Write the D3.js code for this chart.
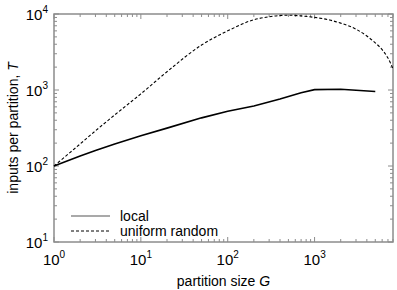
<!DOCTYPE html>
<html>
<head>
<meta charset="utf-8">
<script src="https://cdn.jsdelivr.net/npm/d3@7"></script>
<style>
  body { margin: 0; background: #fff; }
  text { font-family: "Liberation Sans", Arial, sans-serif; fill: #000; }
</style>
</head>
<body>
<svg id="chart" width="397" height="290"></svg>
<script>
// partition size G
const localG = [1, 2, 3, 5, 10, 20, 50, 100, 200, 400, 700, 1000, 2000, 5000];
const localT = [100, 135, 160, 195, 250, 315, 430, 525, 615, 760, 920, 1010, 1025, 955];

const randomG = [1, 2, 3, 5, 10, 20, 50, 100, 200, 300, 500, 700, 1000, 1500, 2000, 3000, 4000, 5000, 6000, 7000, 8000];
const randomT = [100, 195, 290, 470, 890, 1740, 3900, 6000, 8400, 9200, 9650, 9440, 9020, 8320, 7590, 6310, 5130, 4170, 3390, 2630, 1900];

const xTickVals = [1, 10, 100, 1000];
const xTickExp = ["0", "1", "2", "3"];
const yTickVals = [10, 100, 1000, 10000];
const yTickExp = ["1", "2", "3", "4"];

const legendLabels = ["local", "uniform random"];

const margin = {left: 54, top: 14, right: 4, bottom: 48}
const width = 397, height = 290

const svg = d3.select("#chart")

const x = d3.scaleLog().domain([1, 8000]).range([margin.left, width - margin.right])
const y = d3.scaleLog().domain([10, 10000]).range([height - margin.bottom, margin.top])

const x0 = x.range()[0], x1 = x.range()[1]
const y0 = y.range()[0], y1 = y.range()[1]

// minor ticks
const xMinor = x.ticks().filter(d => !xTickVals.includes(d))
const yMinor = y.ticks().filter(d => !yTickVals.includes(d))

const axisColor = "#8c8c8c"
const g = svg.append("g")

// frame
g.append("rect")
  .attr("x", x0).attr("y", y1)
  .attr("width", x1 - x0).attr("height", y0 - y1)
  .attr("fill", "none").attr("stroke", axisColor).attr("stroke-width", 1.5)

function tickLines(vals, len, horiz){
  vals.forEach(v => {
    if (horiz) {
      const px = x(v)
      g.append("line").attr("x1", px).attr("x2", px).attr("y1", y0).attr("y2", y0 - len)
        .attr("stroke", axisColor)
      g.append("line").attr("x1", px).attr("x2", px).attr("y1", y1).attr("y2", y1 + len)
        .attr("stroke", axisColor)
    } else {
      const py = y(v)
      g.append("line").attr("x1", x0).attr("x2", x0 + len).attr("y1", py).attr("y2", py)
        .attr("stroke", axisColor)
      g.append("line").attr("x1", x1).attr("x2", x1 - len).attr("y1", py).attr("y2", py)
        .attr("stroke", axisColor)
    }
  })
}
tickLines(xTickVals, 5, true)
tickLines(xMinor, 3, true)
tickLines(yTickVals, 5, false)
tickLines(yMinor, 3, false)

// tick labels
xTickVals.forEach((v, i) => {
  const t = g.append("text").attr("x", x(v)).attr("y", y0 + 23)
    .attr("text-anchor", "middle").style("font-size", "15px")
  t.append("tspan").text("10")
  t.append("tspan").attr("dy", -7).style("font-size", "10px").text(xTickExp[i])
})
yTickVals.forEach((v, i) => {
  const t = g.append("text").attr("x", x0 - 6).attr("y", y(v) + 6)
    .attr("text-anchor", "end").style("font-size", "15px")
  t.append("tspan").text("10")
  t.append("tspan").attr("dy", -7).style("font-size", "10px").text(yTickExp[i])
})

// axis titles
const xl = g.append("text").attr("x", (x0 + x1) / 2).attr("y", 286)
  .attr("text-anchor", "middle").style("font-size", "14px")
xl.append("tspan").text("partition size ")
xl.append("tspan").style("font-style", "italic").text("G")

const yl = g.append("text")
  .attr("transform", `translate(18,${(y0 + y1) / 2}) rotate(-90)`)
  .attr("text-anchor", "middle").style("font-size", "14px")
yl.append("tspan").text("inputs per partition, ")
yl.append("tspan").style("font-style", "italic").text("T")

// curves
const line = d3.line().x(d => x(d[0])).y(d => y(d[1]))

g.append("path")
  .datum(randomG.map((d, i) => [d, randomT[i]]))
  .attr("d", line.curve(d3.curveMonotoneX))
  .attr("fill", "none").attr("stroke", "#000").attr("stroke-width", 1.1)
  .attr("stroke-dasharray", "3,2")

g.append("path")
  .datum(localG.map((d, i) => [d, localT[i]]))
  .attr("d", line.curve(d3.curveLinear))
  .attr("fill", "none").attr("stroke", "#000").attr("stroke-width", 1.6)

// legend
const leg = g.append("g")
legendLabels.forEach((lab, i) => {
  const ly = 216 + i * 15
  leg.append("line").attr("x1", 71).attr("x2", 110).attr("y1", ly).attr("y2", ly)
    .attr("stroke", i == 0 ? "#555" : "#000")
    .attr("stroke-width", i == 0 ? 1.2 : 1)
    .attr("stroke-dasharray", i == 0 ? null : "3,2")
  leg.append("text").attr("x", 120).attr("y", ly + 5).style("font-size", "14px").text(lab)
})
</script>
</body>
</html>
